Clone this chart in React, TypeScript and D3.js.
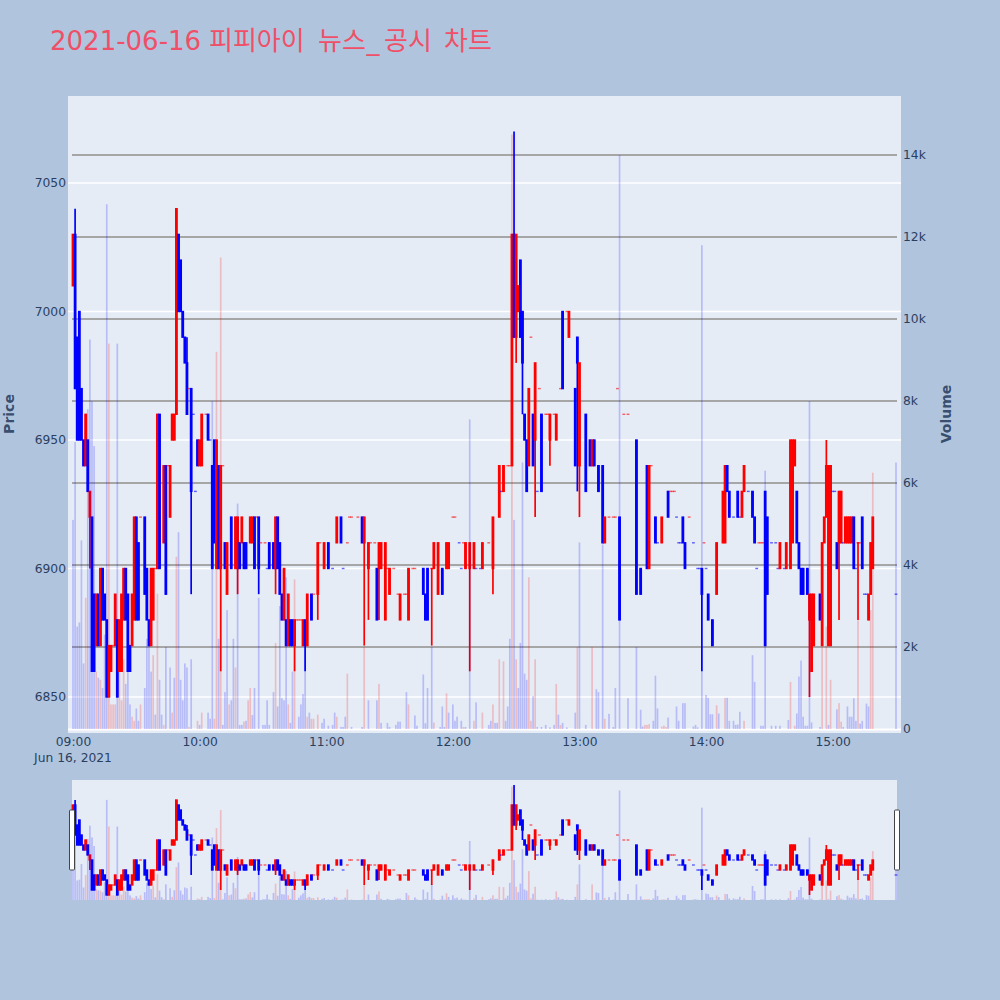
import React, { useEffect, useRef } from 'react';
import * as d3 from 'd3';

type Candle = [number, number, number, number, number];
type Vol = [number, number];

// [minute after 09:00, open, high, low, close]
const candles09: Candle[] = [
  [0,7010,7030,7010,7030],[1,7030,7040,6970,6970],[2,6990,6990,6950,6950],[3,7000,7000,6950,6950],
  [4,6970,6970,6950,6950],[5,6950,6950,6940,6940],[6,6940,6960,6940,6960],[7,6950,6950,6930,6930],
  [8,6920,6930,6900,6930],[9,6920,6920,6860,6860],[10,6890,6890,6860,6860],[11,6870,6890,6870,6890],
  [12,6890,6890,6870,6870],[13,6870,6900,6870,6900],[14,6900,6900,6880,6880],[15,6890,6890,6880,6880],
  [16,6880,6880,6850,6850],[17,6850,6870,6850,6870],[18,6860,6870,6860,6870],[19,6870,6870,6870,6870],
  [20,6870,6890,6870,6890],[21,6880,6880,6850,6850],[22,6860,6880,6860,6880],[23,6860,6890,6860,6890],
  [24,6880,6900,6880,6900],[25,6900,6900,6880,6880],[26,6890,6890,6860,6860],[27,6870,6870,6860,6860],
  [28,6870,6890,6870,6890],[29,6880,6920,6880,6920],[30,6920,6920,6880,6880],[31,6910,6910,6880,6880],
  [32,6920,6920,6920,6920],[34,6920,6920,6890,6890],[35,6900,6900,6880,6880],[36,6880,6880,6870,6870],
  [37,6870,6900,6870,6900],[38,6880,6900,6880,6900],[39,6900,6900,6900,6900],[40,6900,6960,6900,6960],
  [41,6960,6960,6900,6900],[43,6910,6940,6910,6940],[44,6940,6940,6890,6890],[45,6940,6940,6940,6940],
  [46,6920,6940,6920,6940],[47,6950,6960,6950,6960],[48,6950,6960,6950,6960],[49,6960,7040,6960,7040],
  [50,7030,7030,7000,7000],[51,7020,7020,7000,7000],[52,7000,7000,6990,6990],[53,6990,6990,6980,6980],
  [54,6980,6990,6960,6960],[55,6970,6970,6970,6970],[56,6970,6970,6890,6930],[57,6960,6960,6960,6960],
  [58,6930,6930,6930,6930],[59,6950,6950,6940,6940],
];
const candles10: Candle[] = [
  [60,6940,6950,6940,6950],[61,6940,6960,6940,6960],[63,6960,6960,6960,6960],[64,6960,6960,6950,6950],
  [65,6950,6950,6950,6950],[66,6940,6940,6900,6900],[67,6950,6950,6910,6910],[68,6900,6950,6900,6950],
  [69,6940,6940,6900,6900],[70,6900,6940,6860,6940],[71,6940,6940,6940,6940],[72,6910,6910,6900,6900],
  [73,6890,6910,6890,6910],[75,6920,6920,6900,6900],[77,6900,6920,6900,6920],[78,6900,6920,6890,6920],
  [79,6910,6910,6900,6900],[80,6910,6920,6910,6920],[81,6910,6910,6900,6900],[82,6910,6910,6900,6900],
  [84,6910,6920,6910,6920],[85,6910,6920,6910,6920],[86,6920,6920,6900,6900],[87,6920,6920,6920,6920],
  [88,6920,6920,6890,6900],[89,6910,6910,6910,6910],[91,6910,6910,6910,6910],[92,6900,6900,6900,6900],
  [93,6910,6910,6900,6900],[95,6910,6910,6900,6900],[96,6900,6920,6890,6920],[97,6920,6920,6900,6900],
  [98,6910,6910,6890,6890],[99,6890,6890,6880,6880],[100,6880,6900,6880,6900],[101,6880,6880,6870,6870],
  [102,6870,6890,6870,6890],[103,6880,6880,6870,6870],[104,6880,6880,6870,6870],[105,6870,6880,6860,6880],
  [106,6880,6880,6880,6880],[107,6880,6880,6880,6880],[108,6880,6880,6880,6880],[109,6870,6880,6870,6880],
  [110,6880,6880,6860,6870],[111,6870,6890,6870,6890],[113,6890,6890,6880,6880],[114,6890,6890,6890,6890],
  [116,6890,6910,6880,6910],[117,6910,6910,6910,6910],[119,6900,6910,6900,6910],
];
const candles11: Candle[] = [
  [121,6910,6910,6900,6900],[123,6900,6900,6900,6900],[125,6910,6920,6910,6920],[127,6920,6920,6910,6910],
  [128,6900,6900,6900,6900],[130,6910,6910,6910,6910],[131,6920,6920,6920,6920],[132,6920,6920,6920,6920],
  [135,6920,6920,6920,6920],[137,6920,6920,6910,6910],[138,6910,6920,6870,6920],[140,6900,6910,6880,6910],
  [141,6910,6910,6910,6910],[143,6910,6910,6910,6910],[144,6900,6900,6880,6880],[145,6900,6910,6880,6910],
  [146,6900,6910,6900,6910],[148,6880,6910,6880,6910],[149,6900,6900,6900,6900],[150,6890,6900,6890,6900],
  [152,6900,6900,6900,6900],[154,6890,6890,6890,6890],[155,6880,6890,6880,6890],[157,6890,6890,6890,6890],
  [158,6890,6890,6890,6890],[159,6880,6900,6880,6900],[161,6900,6900,6900,6900],[162,6900,6900,6900,6900],
  [166,6900,6900,6890,6890],[167,6890,6890,6880,6880],[168,6900,6900,6880,6880],[170,6900,6900,6870,6900],
  [171,6900,6910,6900,6910],[173,6890,6910,6890,6910],[175,6900,6900,6890,6890],[177,6900,6910,6900,6910],
  [178,6900,6910,6900,6910],
];
const candles12: Candle[] = [
  [180,6920,6920,6920,6920],[181,6920,6920,6920,6920],[183,6910,6910,6910,6910],[184,6900,6900,6900,6900],
  [185,6910,6910,6910,6910],[186,6900,6910,6900,6910],[188,6900,6910,6860,6910],
  [190,6900,6910,6900,6910],[191,6900,6900,6900,6900],[193,6900,6900,6900,6900],
  [194,6900,6910,6900,6910],[197,6910,6910,6910,6910],[199,6900,6920,6890,6920],[202,6920,6940,6920,6940],
  [203,6930,6930,6930,6930],[204,6930,6940,6930,6940],[206,6940,6940,6940,6940],[207,6940,6940,6940,6940],
  [208,6940,7030,6940,7030],[209,7030,7070,6990,6990],[210,6990,7030,6980,7030],[211,7000,7010,7000,7010],
  [212,7020,7020,6990,6990],[213,7000,7000,6960,6980],[214,6960,6960,6950,6950],[215,6950,6950,6930,6930],
  [216,6940,6970,6940,6970],[217,6990,6990,6990,6990],[218,6960,6960,6940,6940],[219,6950,6980,6920,6980],
  [220,6930,6930,6930,6930],[221,6970,6970,6970,6970],[222,6960,6960,6930,6930],[224,6960,6960,6960,6960],
  [225,6960,6960,6960,6960],[226,6950,6960,6940,6960],[228,6960,6960,6960,6960],[229,6950,6960,6950,6960],
  [231,6970,6970,6970,6970],[232,7000,7000,6970,6970],[234,7000,7000,7000,7000],[235,6990,7000,6990,7000],
  [238,6970,6970,6940,6940],[239,6990,6990,6930,6980],
];
const candles13: Candle[] = [
  [240,6940,6980,6920,6980],[243,6960,6960,6930,6930],[245,6950,6950,6940,6940],[246,6940,6950,6940,6950],
  [247,6950,6950,6940,6940],[249,6940,6940,6930,6930],[251,6940,6940,6910,6910],[252,6910,6920,6910,6920],
  [254,6920,6920,6920,6920],[256,6920,6920,6920,6920],[257,6920,6920,6920,6920],[258,6970,6970,6970,6970],
  [259,6920,6920,6880,6880],[261,6960,6960,6960,6960],[263,6960,6960,6960,6960],[267,6950,6950,6890,6890],
  [269,6900,6900,6890,6890],[272,6940,6940,6900,6900],[273,6900,6940,6900,6940],[274,6940,6940,6940,6940],
  [276,6920,6920,6910,6910],[277,6910,6910,6910,6910],[279,6910,6920,6910,6920],[282,6930,6930,6920,6920],
  [283,6930,6930,6930,6930],[284,6930,6930,6930,6930],[285,6930,6930,6930,6930],[286,6920,6920,6920,6920],
  [287,6910,6910,6910,6910],[288,6910,6910,6910,6910],[289,6920,6920,6910,6910],[290,6910,6910,6900,6900],
  [292,6920,6920,6920,6920],[294,6910,6910,6910,6910],[296,6900,6900,6900,6900],[297,6900,6900,6900,6900],
  [298,6900,6900,6860,6890],[299,6910,6910,6910,6910],
];
const candles14: Candle[] = [
  [300,6900,6900,6900,6900],[301,6890,6890,6880,6880],[303,6880,6880,6870,6870],[305,6890,6910,6890,6910],
  [308,6910,6930,6910,6930],[309,6910,6940,6910,6940],[310,6940,6940,6930,6930],[311,6930,6930,6920,6920],
  [313,6920,6920,6920,6920],[315,6930,6930,6920,6920],[316,6920,6920,6920,6920],[317,6920,6930,6920,6930],
  [318,6930,6940,6930,6940],[320,6930,6930,6930,6930],[322,6930,6930,6920,6920],[323,6920,6920,6910,6910],
  [324,6900,6900,6900,6900],[325,6910,6910,6910,6910],[326,6910,6910,6910,6910],[327,6910,6910,6910,6910],
  [328,6930,6930,6870,6870],[329,6920,6920,6890,6890],[331,6910,6910,6910,6910],[333,6910,6910,6910,6910],
  [334,6900,6900,6900,6900],[335,6900,6910,6900,6910],[337,6900,6900,6900,6900],[338,6900,6910,6900,6910],
  [340,6900,6950,6900,6950],[341,6910,6950,6910,6950],[342,6940,6950,6940,6950],[343,6930,6930,6910,6910],
  [344,6910,6910,6900,6900],[345,6900,6900,6890,6890],[346,6900,6900,6890,6890],[348,6900,6900,6890,6890],
  [349,6880,6890,6850,6890],[350,6860,6890,6860,6890],[351,6870,6890,6870,6890],[354,6890,6890,6880,6880],
  [355,6870,6910,6870,6910],[356,6910,6920,6910,6920],[357,6920,6950,6920,6940],[358,6870,6940,6870,6940],
  [359,6870,6940,6870,6940],
];
const candles15: Candle[] = [
  [360,6930,6930,6930,6930],[361,6930,6930,6930,6930],[362,6910,6910,6900,6900],[363,6910,6930,6880,6930],
  [364,6910,6930,6910,6930],[365,6910,6910,6910,6910],[366,6910,6920,6910,6920],[367,6910,6920,6910,6920],
  [368,6910,6920,6910,6920],[369,6910,6920,6910,6920],[370,6920,6920,6900,6900],[371,6900,6900,6900,6900],
  [372,6910,6910,6880,6910],[373,6910,6910,6910,6910],[374,6920,6920,6900,6900],[375,6890,6890,6890,6890],
  [376,6890,6890,6890,6890],[377,6880,6890,6880,6890],[378,6890,6910,6890,6910],[379,6900,6920,6900,6920],
  [390,6890,6890,6890,6890],
];

// open == close candles that were drawn in the falling colour
const blueFlatMinutes = [57,58,65,92,123,128,183,184,191,193,203,220,277,286,287,288,294,296,297,300,
  313,316,320,324,331,333,334,337,360,361,365,371,375,376,390];

// [minute, volume]
const redVolumes: Vol[] = [
  [6,3200],[11,1400],[13,1200],[17,9400],[18,600],[19,600],[20,600],[22,1900],[23,700],[24,1700],[28,300],
  [29,200],[32,600],[38,1800],[40,3300],[43,100],[47,400],[49,4200],[55,50],[59,200],[61,400],[67,250],
  [68,9200],[70,11500],[74,600],[77,1500],[81,180],[83,700],[84,1000],[96,2100],[102,600],[105,3650],
  [111,300],[113,250],[114,250],[116,350],[125,300],[130,1350],[138,2000],[145,1100],[159,600],[171,160],
  [177,870],[185,50],[190,200],[194,400],[199,600],[202,1700],[204,1650],[208,14500],[210,1700],[216,3700],
  [217,200],[219,1700],[229,1100],[231,100],[239,2000],[246,2000],[252,250],[271,100],[272,100],[273,120],
  [279,60],[280,80],[281,50],[305,580],[309,760],[318,200],[340,1150],[342,80],[355,2000],[357,2500],[359,1200],
  [363,630],[364,180],[372,2650],[378,2900],[379,6250],
];
const blueVolumes: Vol[] = [
  [0,5100],[1,7000],[2,2500],[3,2600],[4,4600],[5,1600],[7,7800],[8,9500],[9,8000],[10,6900],[12,1250],[14,1000],
  [15,2300],[16,12800],[21,9400],[25,1100],[26,1400],[27,600],[30,500],[31,200],[34,1000],[35,2200],[36,2100],
  [37,1400],[39,350],[41,1200],[42,350],[44,2000],[46,1500],[48,1250],[50,4800],[51,1200],[52,700],[53,1600],
  [54,1500],[56,1700],[60,100],[64,400],[65,250],[66,8000],[69,2200],[71,100],[72,900],[73,2900],[75,700],[76,2200],
  [78,5500],[79,100],[80,100],[82,200],[85,340],[86,1000],[88,3200],[90,100],[91,100],[92,700],[93,100],[95,900],
  [97,550],[98,3000],[99,750],[100,700],[101,3700],[103,150],[104,1400],[107,300],[108,600],[109,850],[110,2000],
  [112,400],[118,150],[119,250],[121,80],[123,100],[124,400],[127,50],[128,50],[129,300],[132,50],[137,50],[140,700],
  [144,700],[146,150],[149,150],[150,50],[153,100],[154,180],[155,180],[158,900],[162,330],[163,80],[166,1330],
  [167,140],[168,1000],[170,2000],[174,50],[175,550],[176,50],[178,400],[180,600],[181,200],[182,300],[184,200],
  [186,50],[188,7550],[191,650],[197,100],[198,200],[200,150],[201,150],[205,200],[206,550],[207,2200],[209,5100],
  [211,1000],[212,2100],[213,6500],[214,1350],[215,1200],[218,800],[220,50],[222,50],[224,100],[226,40],[228,100],
  [230,350],[232,150],[234,40],[238,400],[240,4550],[243,100],[248,970],[249,900],[251,4500],[254,370],[256,50],
  [257,1000],[259,14000],[263,750],[267,2000],[269,470],[270,60],[275,200],[276,1300],[277,500],[282,280],[286,550],
  [287,200],[289,630],[290,630],[294,60],[295,100],[296,40],[298,11800],[300,830],[301,760],[302,360],[303,360],
  [306,380],[310,760],[311,200],[313,200],[314,100],[315,110],[316,420],[322,1800],[323,1150],[326,80],[327,80],
  [328,6300],[331,80],[333,80],[335,80],[339,220],[343,380],[344,1280],[345,1670],[346,300],[347,80],[348,80],
  [349,8000],[350,160],[354,50],[358,100],[362,480],[365,50],[367,550],[368,300],[369,300],[370,750],[371,200],
  [373,130],[374,200],[376,620],[377,550],[390,6500],
];

const priceTicks = [6850, 6900, 6950, 7000, 7050];
const volumeTicks = [0, 2000, 4000, 6000, 8000, 10000, 12000, 14000];
const hourTicks = [9, 10, 11, 12, 13, 14, 15];
// title pieces and where each one starts, the hangul ran wider in the original font
const titleParts = ['2021-06-16 ', '피피아이 ', '뉴스', '_', '공시 ', '차트'];
const titleStarts = [50, 209, 318, 366.5, 384, 444];

const allCandles = [...candles09, ...candles10, ...candles11, ...candles12, ...candles13, ...candles14, ...candles15];
const day = new Date(2021, 5, 16, 9, 0);
const UP = '#ff0000';
const DOWN = '#0000ff';
const FONT = '"DejaVu Sans","Noto Sans CJK KR",sans-serif';
const INK = '#2a3f5f';

const isBlue = (d: Candle) => d[4] < d[1] || (d[4] === d[1] && blueFlatMinutes.includes(d[0]));
const isDash = (d: Candle) => d[2] === d[3];

function drawPanel(g: any, x: any, price: any, volume: any, base: number) {
  const at = (m: number) => x(d3.timeMinute.offset(day, m));
  const cg = g.append('g');
  cg.selectAll('line')
    .data(allCandles.filter(d => !isDash(d)))
    .enter()
    .append('line')
    .attr('x1', (d: Candle) => at(d[0]))
    .attr('x2', (d: Candle) => at(d[0]))
    .attr('y1', (d: Candle) => price(d[2]))
    .attr('y2', (d: Candle) => price(d[3]))
    .attr('stroke', (d: Candle) => (isBlue(d) ? DOWN : UP))
    .attr('stroke-width', 1.7);
  cg.selectAll('rect')
    .data(allCandles)
    .enter()
    .append('rect')
    .attr('x', (d: Candle) => at(d[0]) - 1.4)
    .attr('width', 2.8)
    .attr('y', (d: Candle) => price(Math.max(d[1], d[4])) - 0.7)
    .attr('height', (d: Candle) => Math.abs(price(d[1]) - price(d[4])) + 1.4)
    .attr('fill', (d: Candle) => (isBlue(d) ? DOWN : UP))
    .attr('opacity', (d: Candle) => (isDash(d) ? 0.6 : 1));

  const bars = (rows: Vol[], color: string) =>
    g.append('g')
      .selectAll('rect')
      .data(rows)
      .enter()
      .append('rect')
      .attr('x', (d: Vol) => at(d[0]) - 0.85)
      .attr('width', 1.7)
      .attr('y', (d: Vol) => volume(d[1]))
      .attr('height', (d: Vol) => base - volume(d[1]))
      .attr('fill', color)
      .attr('opacity', 0.2);
  bars(redVolumes, UP);
  bars(blueVolumes, DOWN);
}

const App = () => {
  const ref = useRef<SVGSVGElement>(null);

  useEffect(() => {
    const svg = d3.select(ref.current);
    svg.selectAll('*').remove();

    const x = d3.scaleTime().domain([day, d3.timeMinute.offset(day, 390)]).range([73, 896]);
    const price = d3.scaleLinear().domain([6850, 7050]).range([697, 183]);
    const volume = d3.scaleLinear().domain([0, 14000]).range([729, 155]);

    svg.append('rect').attr('width', 1000).attr('height', 1000).attr('fill', '#b0c4de');
    svg.append('rect').attr('x', 68).attr('y', 96).attr('width', 833).attr('height', 637).attr('fill', '#e5ecf6');

    svg.append('text')
      .attr('y', 50)
      .attr('font-family', FONT)
      .attr('font-size', 26)
      .attr('fill', '#ef5068')
      .selectAll('tspan')
      .data(titleParts)
      .enter()
      .append('tspan')
      .attr('x', (_d, i) => titleStarts[i])
      .text(d => d);

    // grid
    svg.append('g')
      .selectAll('line')
      .data(priceTicks)
      .enter()
      .append('line')
      .attr('x1', 68)
      .attr('x2', 901)
      .attr('y1', d => price(d))
      .attr('y2', d => price(d))
      .attr('stroke', '#fff')
      .attr('stroke-width', 1.5);
    svg.append('line').attr('x1', 68).attr('x2', 901).attr('y1', 729.5).attr('y2', 729.5).attr('stroke', '#fff').attr('stroke-width', 2);
    svg.append('g')
      .selectAll('line')
      .data(volumeTicks.slice(1))
      .enter()
      .append('line')
      .attr('x1', 72)
      .attr('x2', 897)
      .attr('y1', d => volume(d))
      .attr('y2', d => volume(d))
      .attr('stroke', '#a6a6a6')
      .attr('stroke-width', 2);

    drawPanel(svg.append('g'), x, price, volume, 729);

    // axes
    const styleAxis = (g: any) => {
      g.select('.domain').remove();
      g.selectAll('text').attr('font-family', FONT).attr('font-size', 12.3).attr('fill', INK);
    };
    svg.append('g')
      .attr('transform', 'translate(68,0)')
      .call(d3.axisLeft(price).tickValues(priceTicks).tickSize(0).tickPadding(2).tickFormat(d3.format('d')))
      .call(styleAxis);
    svg.append('g')
      .attr('transform', 'translate(901,0)')
      .call(
        d3.axisRight(volume)
          .tickValues(volumeTicks)
          .tickSize(0)
          .tickPadding(2)
          .tickFormat((d: any) => (d === 0 ? '0' : `${d / 1000}k`))
      )
      .call(styleAxis);
    svg.append('g')
      .attr('transform', 'translate(0,730)')
      .call(
        d3.axisBottom(x)
          .tickValues(hourTicks.map(h => new Date(2021, 5, 16, h, 0)))
          .tickSize(0)
          .tickPadding(7)
          .tickFormat(d3.timeFormat('%H:%M') as any)
      )
      .call(styleAxis);

    svg.append('text')
      .attr('x', x(day))
      .attr('y', 762)
      .attr('text-anchor', 'middle')
      .attr('font-family', FONT)
      .attr('font-size', 12.3)
      .attr('fill', INK)
      .text('Jun 16, 2021');

    const axisTitle = (label: string, tx: number) =>
      svg.append('text')
        .attr('transform', `translate(${tx},414) rotate(-90)`)
        .attr('text-anchor', 'middle')
        .attr('font-family', FONT)
        .attr('font-size', 14)
        .attr('font-weight', 'bold')
        .attr('fill', INK)
        .attr('fill-opacity', 0.9)
        .text(label);
    axisTitle('Price', 14);
    axisTitle('Volume', 951);

    // range slider
    svg.append('rect').attr('x', 72).attr('y', 780).attr('width', 825).attr('height', 120).attr('fill', '#e5ecf6');
    const miniPrice = d3.scaleLinear().domain([6850, 7050]).range([895, 795]);
    const miniVolume = d3.scaleLinear().domain([0, 14000]).range([900, 790.5]);
    drawPanel(svg.append('g'), x, miniPrice, miniVolume, 900);

    svg.append('g')
      .selectAll('rect')
      .data([72, 897])
      .enter()
      .append('rect')
      .attr('x', d => d - 2.5)
      .attr('y', 810)
      .attr('width', 5)
      .attr('height', 60)
      .attr('rx', 1)
      .attr('fill', '#fff')
      .attr('stroke', '#444')
      .attr('stroke-width', 1);
  }, []);

  return <svg ref={ref} width={1000} height={1000} style={{ position: 'absolute', left: 0, top: 0, display: 'block' }} />;
};

export default App;
